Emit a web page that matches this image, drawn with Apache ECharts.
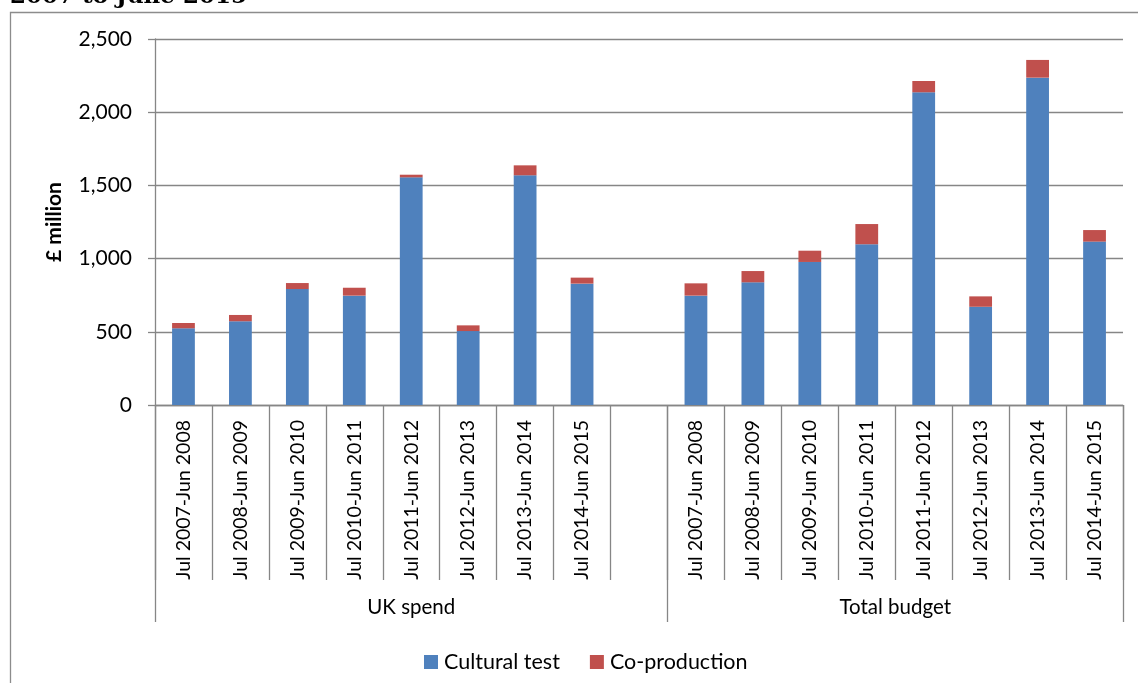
<!DOCTYPE html>
<html>
<head>
<meta charset="utf-8">
<script src="https://cdn.jsdelivr.net/npm/echarts@6/dist/echarts.min.js"></script>
<style>
  html, body { margin: 0; padding: 0; background: #fff; }
  #chart { width: 1138px; height: 683px; }
</style>
</head>
<body>
<div id="chart"></div>
<script>
// ---- data ----
const periods = ['Jul 2007-Jun 2008', 'Jul 2008-Jun 2009', 'Jul 2009-Jun 2010', 'Jul 2010-Jun 2011',
                 'Jul 2011-Jun 2012', 'Jul 2012-Jun 2013', 'Jul 2013-Jun 2014', 'Jul 2014-Jun 2015'];
const groupNames = ['UK spend', 'Total budget'];
const ukCultural = [524, 572, 792, 747, 1555, 505, 1569, 829];
const ukCoproduction = [36, 43, 41, 54, 18, 39, 68, 41];
const totalCultural = [747, 838, 977, 1098, 2136, 671, 2236, 1116];
const totalCoproduction = [84, 77, 77, 138, 77, 71, 121, 79];
const seriesNames = ['Cultural test', 'Co-production'];
const yMin = 0, yMax = 2500, yStep = 500;
const titleTail = '2007 to June 2015';
const yAxisTitle = '£ million';

// ---- build ----
const categories = [...periods, '', ...periods];
const culturalData = [...ukCultural, null, ...totalCultural];
const coproData = [...ukCoproduction, null, ...totalCoproduction];
const groupSizes = [periods.length + 1, periods.length];
const groupBounds = [0];
groupSizes.forEach(s => groupBounds.push(groupBounds[groupBounds.length - 1] + s));
const groupCenters = groupSizes.map((s, i) => groupBounds[i] + s / 2);

const FONT = 'Lato';
const grey = '#868686';

const chart = echarts.init(document.getElementById('chart'), null, { renderer: 'canvas' });
chart.setOption({
  animation: false,
  backgroundColor: '#fff',
  textStyle: { fontFamily: FONT, color: '#000' },
  graphic: [
    { type: 'rect', shape: { x: 10.5, y: 12.5, width: 1300, height: 800 },
      style: { fill: 'none', stroke: '#8c8c8c', lineWidth: 1.3 }, silent: true, z: -10 },
    { type: 'text', x: 10, y: -14,
      style: { text: titleTail, font: 'bold 23px "DejaVu Serif"', fill: '#000' } }
  ],
  grid: { left: 155, right: 15, top: 39, bottom: 278, containLabel: false },
  legend: {
    data: seriesNames,
    left: 419, top: 646,
    itemWidth: 14, itemHeight: 14, itemGap: 30,
    icon: 'rect',
    textStyle: { fontFamily: FONT, fontSize: 21.5, color: '#000', padding: [0, 0, 0, 1] }
  },
  xAxis: [
    {
      type: 'category',
      data: categories,
      boundaryGap: true,
      axisLine: { lineStyle: { color: grey, width: 1.3 } },
      axisTick: { show: true, interval: 0, length: 175, lineStyle: { color: grey, width: 1.3 } },
      axisLabel: { interval: 0, rotate: 90, margin: 15, fontFamily: FONT, fontSize: 19.5, color: '#000' },
      splitLine: { show: false }
    },
    {
      type: 'value',
      position: 'bottom',
      min: 0, max: categories.length,
      axisLine: { show: false },
      axisTick: { show: true, customValues: groupBounds, length: 217, lineStyle: { color: grey, width: 1.3 } },
      axisLabel: {
        customValues: groupCenters, margin: 192, fontFamily: FONT, fontSize: 20.5, color: '#000',
        formatter: v => { const i = groupCenters.indexOf(v); return i >= 0 ? groupNames[i] : ''; }
      },
      splitLine: { show: false }
    }
  ],
  yAxis: {
    type: 'value',
    min: yMin, max: yMax, interval: yStep,
    name: yAxisTitle,
    nameLocation: 'middle', nameRotate: 90, nameGap: 90,
    nameTextStyle: { fontFamily: FONT, fontWeight: 'bold', fontSize: 21, color: '#000' },
    axisLine: { show: true, lineStyle: { color: grey, width: 1.3 } },
    axisTick: { show: true, length: 7, lineStyle: { color: grey, width: 1.3 } },
    axisLabel: { margin: 23, fontFamily: FONT, fontSize: 21, color: '#000',
      formatter: v => v.toLocaleString('en-US') },
    splitLine: { show: true, lineStyle: { color: grey, width: 1.3 } }
  },
  series: [
    { name: seriesNames[0], type: 'bar', stack: 'total', barWidth: '40%', data: culturalData,
      itemStyle: { color: '#4F81BD' } },
    { name: seriesNames[1], type: 'bar', stack: 'total', barWidth: '40%', data: coproData,
      itemStyle: { color: '#C0504D' } }
  ]
});
</script>
</body>
</html>
